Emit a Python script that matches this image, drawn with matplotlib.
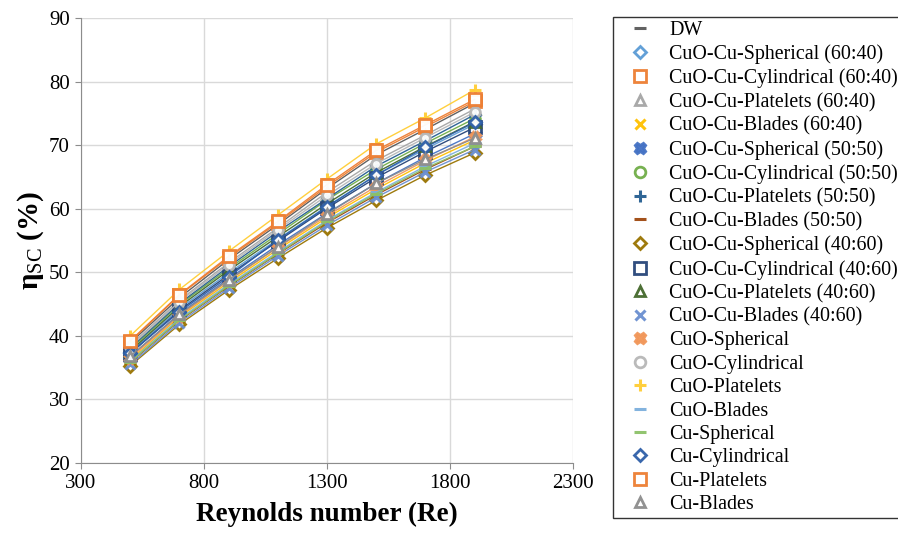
import matplotlib
matplotlib.use("Agg")
import matplotlib.pyplot as plt

plt.rcParams['font.family'] = ['Liberation Serif', 'DejaVu Serif']
plt.rcParams['mathtext.fontset'] = 'custom'
plt.rcParams['mathtext.rm'] = 'Liberation Serif'
plt.rcParams['mathtext.bf'] = 'Liberation Serif:bold'

reynolds = [500, 700, 900, 1100, 1300, 1500, 1700, 1900]

labels = [
    "DW",
    "CuO-Cu-Spherical (60:40)",
    "CuO-Cu-Cylindrical (60:40)",
    "CuO-Cu-Platelets (60:40)",
    "CuO-Cu-Blades (60:40)",
    "CuO-Cu-Spherical (50:50)",
    "CuO-Cu-Cylindrical (50:50)",
    "CuO-Cu-Platelets (50:50)",
    "CuO-Cu-Blades (50:50)",
    "CuO-Cu-Spherical (40:60)",
    "CuO-Cu-Cylindrical (40:60)",
    "CuO-Cu-Platelets (40:60)",
    "CuO-Cu-Blades (40:60)",
    "CuO-Spherical",
    "CuO-Cylindrical",
    "CuO-Platelets",
    "CuO-Blades",
    "Cu-Spherical",
    "Cu-Cylindrical",
    "Cu-Platelets",
    "Cu-Blades",
]

# solar collector efficiency (%) for each fluid
eta = [
    [38.9, 46.0, 52.0, 57.5, 63.2, 68.5, 72.5, 76.6],
    [37.4, 44.3, 49.9, 55.2, 60.4, 65.3, 69.4, 73.3],
    [39.1, 46.4, 52.3, 57.8, 63.5, 68.9, 72.9, 76.9],
    [38.5, 45.6, 51.5, 57.0, 62.6, 67.6, 71.6, 75.7],
    [36.2, 43.0, 48.4, 53.6, 58.6, 63.1, 67.2, 70.8],
    [36.7, 43.5, 49.0, 54.3, 59.3, 64.0, 68.1, 71.8],
    [37.9, 44.9, 50.6, 56.0, 61.4, 66.2, 70.3, 74.2],
    [38.1, 45.1, 50.9, 56.4, 61.6, 66.7, 70.7, 74.8],
    [35.8, 42.4, 47.8, 52.9, 57.8, 62.2, 66.2, 69.8],
    [35.3, 41.8, 47.2, 52.2, 57.0, 61.3, 65.3, 68.8],
    [37.2, 44.0, 49.6, 54.9, 60.1, 64.9, 69.0, 72.8],
    [37.6, 44.6, 50.3, 55.6, 60.8, 65.7, 69.8, 73.7],
    [35.5, 42.1, 47.5, 52.6, 57.4, 61.8, 65.8, 69.3],
    [36.5, 43.2, 48.7, 53.9, 58.9, 63.5, 67.6, 71.3],
    [38.3, 45.4, 51.2, 56.7, 62.1, 67.1, 71.2, 75.2],
    [40.0, 47.3, 53.3, 59.0, 64.7, 70.2, 74.3, 78.7],
    [36.0, 42.7, 48.1, 53.2, 58.2, 62.6, 66.7, 70.3],
    [35.9, 42.5, 47.9, 53.0, 58.0, 62.4, 66.4, 69.8],
    [37.3, 43.8, 49.3, 55.1, 60.3, 65.3, 69.7, 73.6],
    [39.2, 46.5, 52.5, 58.0, 63.8, 69.2, 73.2, 77.2],
    [36.8, 43.4, 48.8, 54.0, 59.2, 64.0, 67.8, 71.1],
]

colors = [
    "#595959", "#5B9BD5", "#ED7D31", "#A5A5A5", "#FFC000", "#4472C4",
    "#70AD47", "#255E91", "#9E480E", "#997300", "#264478", "#43682B",
    "#698ED0", "#F1975A", "#B7B7B7", "#FFCD33", "#7CAFDD", "#8CC168",
    "#2E5FA8", "#ED7D31", "#8C8C8C",
]
markers = [
    "_", "D", "s", "^", "x", "X", "o", "+", "_", "D", "s", "^",
    "x", "X", "o", "+", "_", "_", "D", "s", "^",
]
sizes = [8, 6, 8, 7, 7, 7, 7, 8, 8, 6, 8, 7, 7, 7, 7, 8, 8, 8, 6, 8, 7]
hollow = {"D", "s", "^", "o"}

fig = plt.figure(figsize=(8.98, 5.38), dpi=100)
ax = fig.add_axes([0.0902, 0.1394, 0.548, 0.827])

handles = []
for lab, y, c, m, ms in zip(labels, eta, colors, markers, sizes):
    kw = dict(marker=m, markersize=ms, color=c, linewidth=1.0, alpha=0.95)
    if m in hollow:
        kw.update(markerfacecolor="white", markeredgecolor=c, markeredgewidth=2.0)
    else:
        kw.update(markeredgewidth=2.2)
    line, = ax.plot(reynolds, y, label=lab, **kw)
    handles.append(line)

ax.set_xlim(300, 2300)
ax.set_ylim(20, 90)
ax.set_xticks([300, 800, 1300, 1800, 2300])
ax.set_yticks(range(20, 91, 10))
ax.grid(True, color="#d9d9d9", linewidth=1.0)
ax.set_axisbelow(True)
for s in ("top", "right"):
    ax.spines[s].set_visible(False)
for s in ("left", "bottom"):
    ax.spines[s].set_color("#8c8c8c")
ax.tick_params(axis="both", colors="#8c8c8c", labelcolor="black",
               labelsize=15, length=4, direction="out", pad=4)

ax.set_xlabel("Reynolds number (Re)", fontsize=19.5, fontweight="bold", labelpad=6)
ax.set_ylabel(r"$\mathbf{\eta}$$_{\mathrm{SC}}$ (%)", fontsize=21, fontweight="bold", labelpad=2)

leg = fig.legend(handles=handles, loc="upper left", bbox_to_anchor=(0.683, 0.968),
                 fontsize=14.4, frameon=True, fancybox=False, edgecolor="black",
                 handlelength=2.3, handletextpad=0.3, labelspacing=0.22,
                 borderpad=0.2, borderaxespad=0, markerscale=1.1)
leg.get_frame().set_linewidth(1.0)
for h in leg.legend_handles:
    h.set_linestyle("none")

fig.savefig("out.png", dpi=100)
